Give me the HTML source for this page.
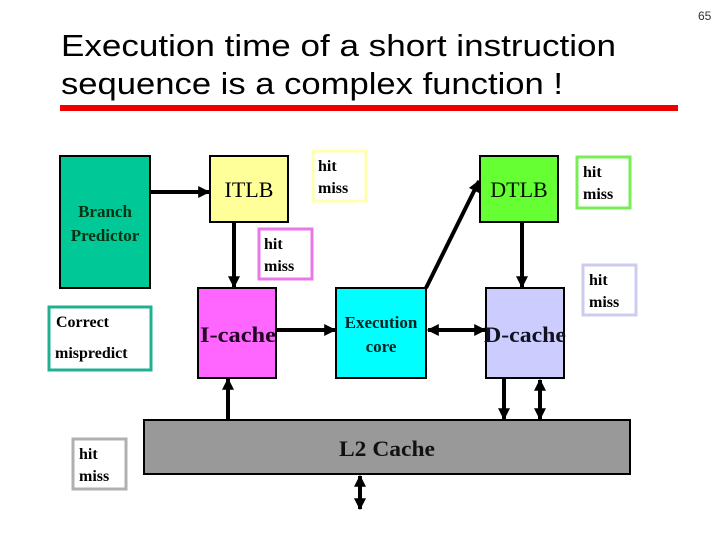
<!DOCTYPE html>
<html><head><meta charset="utf-8"><style>
html,body{margin:0;padding:0;background:#fff}
svg{display:block}
.t{font-family:"Liberation Sans",Arial,sans-serif}
.s{font-family:"Liberation Serif","Times New Roman",serif;font-weight:bold}
</style></head><body>
<svg width="720" height="540" viewBox="0 0 720 540" xmlns="http://www.w3.org/2000/svg">
<defs>
<marker id="a" viewBox="0 0 10 10" refX="9" refY="5" markerWidth="3" markerHeight="3" orient="auto-start-reverse"><path d="M0,0 L10,5 L0,10 z" fill="#000"/></marker>
</defs>
<text x="698" y="20" class="t" font-size="12" fill="#333">65</text>
<text x="61" y="56" class="t" font-size="31" fill="#000" textLength="555" lengthAdjust="spacingAndGlyphs">Execution time of a short instruction</text>
<text x="61" y="94" class="t" font-size="31" fill="#000" textLength="502" lengthAdjust="spacingAndGlyphs">sequence is a complex function !</text>
<rect x="60" y="105" width="618" height="6" fill="#ee0000"/>

<rect x="60" y="156" width="90" height="132" fill="#00c896" stroke="#000" stroke-width="2"/>
<text x="105" y="217" class="s" font-size="17" text-anchor="middle" fill="#031">Branch</text>
<text x="105" y="241" class="s" font-size="17" text-anchor="middle" fill="#031">Predictor</text>

<rect x="210" y="156" width="78" height="66" fill="#ffff99" stroke="#000" stroke-width="2"/>
<text x="249" y="197" class="s" font-size="22" style="font-weight:normal" text-anchor="middle">ITLB</text>

<rect x="313" y="151" width="53" height="50" fill="#fff" stroke="#ffffb0" stroke-width="3"/>
<text x="318" y="171" class="s" font-size="16">hit</text>
<text x="318" y="193" class="s" font-size="16">miss</text>

<rect x="259" y="229" width="53" height="50" fill="#fff" stroke="#e878e8" stroke-width="3"/>
<text x="264" y="249" class="s" font-size="16">hit</text>
<text x="264" y="271" class="s" font-size="16">miss</text>

<rect x="49" y="307" width="102" height="63" fill="#fff" stroke="#20b090" stroke-width="3"/>
<text x="56" y="327" class="s" font-size="16">Correct</text>
<text x="55" y="358" class="s" font-size="16">mispredict</text>

<rect x="198" y="288" width="78" height="90" fill="#ff66ff" stroke="#000" stroke-width="2"/>
<text x="238" y="342" class="s" font-size="22" text-anchor="middle" fill="#202" textLength="76" lengthAdjust="spacingAndGlyphs">I-cache</text>

<rect x="336" y="288" width="90" height="90" fill="#00ffff" stroke="#000" stroke-width="2"/>
<text x="381" y="328" class="s" font-size="17" text-anchor="middle" fill="#022">Execution</text>
<text x="381" y="352" class="s" font-size="17" text-anchor="middle" fill="#022">core</text>

<rect x="480" y="156" width="78" height="66" fill="#66ff33" stroke="#000" stroke-width="2"/>
<text x="519" y="197" class="s" font-size="22" style="font-weight:normal" text-anchor="middle" fill="#010">DTLB</text>

<rect x="577" y="157" width="53" height="51" fill="#fff" stroke="#77ee55" stroke-width="3"/>
<text x="583" y="177" class="s" font-size="16">hit</text>
<text x="583" y="199" class="s" font-size="16">miss</text>

<rect x="486" y="288" width="78" height="90" fill="#ccccff" stroke="#000" stroke-width="2"/>
<text x="525" y="342" class="s" font-size="22" text-anchor="middle" fill="#112" textLength="82" lengthAdjust="spacingAndGlyphs">D-cache</text>

<rect x="583" y="265" width="53" height="50" fill="#fff" stroke="#ccccee" stroke-width="3"/>
<text x="589" y="285" class="s" font-size="16">hit</text>
<text x="589" y="307" class="s" font-size="16">miss</text>

<rect x="144" y="420" width="486" height="54" fill="#999999" stroke="#000" stroke-width="2"/>
<text x="339" y="456" class="s" font-size="22" fill="#111" textLength="96" lengthAdjust="spacingAndGlyphs">L2 Cache</text>

<rect x="73" y="439" width="53" height="50" fill="#fff" stroke="#b0b0b0" stroke-width="3"/>
<text x="79" y="459" class="s" font-size="16">hit</text>
<text x="79" y="481" class="s" font-size="16">miss</text>

<g stroke="#000" stroke-width="4" fill="none">
<line x1="151" y1="192" x2="209" y2="192" marker-end="url(#a)"/>
<line x1="234" y1="223" x2="234" y2="287" marker-end="url(#a)"/>
<line x1="277" y1="330" x2="335" y2="330" marker-end="url(#a)"/>
<line x1="228" y1="419" x2="228" y2="379" marker-end="url(#a)"/>
<line x1="428" y1="330" x2="485" y2="330" marker-start="url(#a)" marker-end="url(#a)"/>
<line x1="426" y1="288" x2="479" y2="181" marker-end="url(#a)"/>
<line x1="522" y1="223" x2="522" y2="287" marker-end="url(#a)"/>
<line x1="504" y1="379" x2="504" y2="419" marker-end="url(#a)"/>
<line x1="540" y1="380" x2="540" y2="419" marker-start="url(#a)" marker-end="url(#a)"/>
<line x1="360" y1="476" x2="360" y2="509" marker-start="url(#a)" marker-end="url(#a)"/>
</g>
</svg>
</body></html>
